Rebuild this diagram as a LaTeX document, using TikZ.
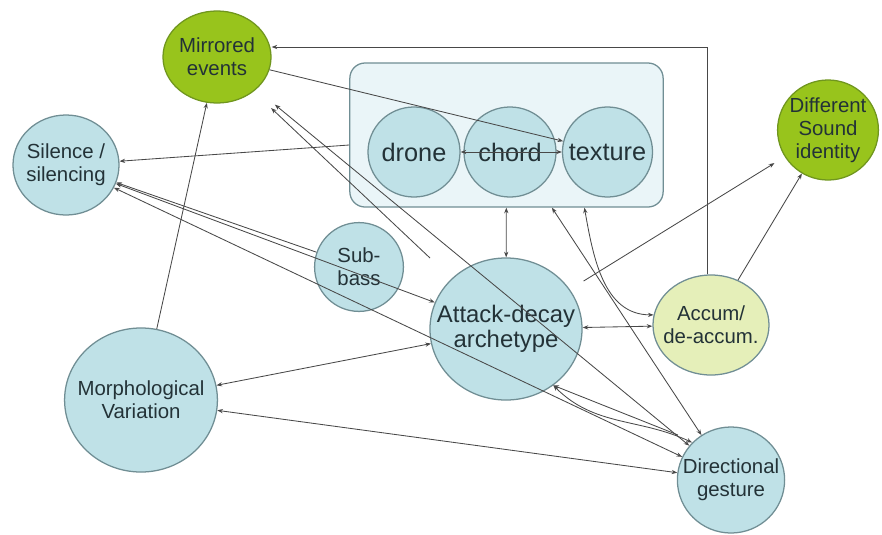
\documentclass[tikz,border=0pt]{standalone}
\usepackage{fontspec}
\setmainfont{Liberation Sans}
\usetikzlibrary{shapes.geometric,arrows.meta}
\definecolor{bubBlue}{RGB}{191,225,231}
\definecolor{bubEdge}{RGB}{112,142,148}
\definecolor{boxFill}{RGB}{234,245,248}
\definecolor{limeGreen}{RGB}{152,196,28}
\definecolor{limeEdge}{RGB}{112,150,30}
\definecolor{paleLime}{RGB}{229,239,185}
\definecolor{inkGray}{RGB}{72,72,72}
\definecolor{txtDark}{RGB}{35,50,55}

\begin{document}
\begin{tikzpicture}[x=0.025cm, y=-0.025cm,
    txt/.style={font=\fontsize{14.5}{16.5}\selectfont, text=txtDark, align=center},
    bigtxt/.style={font=\fontsize{17}{18}\selectfont, text=txtDark, align=center},
    bub/.style={ellipse, draw=bubEdge, line width=0.9pt, fill=bubBlue, inner sep=0pt},
    grn/.style={bub, fill=limeGreen, draw=limeEdge},
    lnk/.style={draw=inkGray, line width=0.6pt},
    >={Stealth[length=4pt,width=3pt]}]
    \useasboundingbox (0,0) rectangle (882,534);

    % drone / chord / texture group
    \node[draw=bubEdge, fill=boxFill, line width=0.9pt, rounded corners=0.38cm,
          minimum width=7.83cm, minimum height=3.6cm] (box) at (506.5,135) {};
    \node[bub, minimum width=2.3cm, minimum height=2.25cm,
          label={[bigtxt, font=\fontsize{18}{20}\selectfont]center:drone}] (drone) at (414,152) {};
    \node[bub, minimum width=2.3cm, minimum height=2.25cm,
          label={[bigtxt, font=\fontsize{18}{20}\selectfont]center:chord}] (chord) at (510,152) {};
    \node[bub, minimum width=2.25cm, minimum height=2.25cm,
          label={[bigtxt, font=\fontsize{18}{20}\selectfont]center:texture}] (tex) at (607.5,152) {};

    \node[grn, minimum width=2.7cm, minimum height=2.3cm,
          label={[txt]center:{Mirrored\\events}}] (mirr) at (217,57) {};
    \node[grn, minimum width=2.52cm, minimum height=2.5cm,
          label={[txt]center:{Different\\Sound\\identity}}] (diff) at (828,130) {};
    \node[bub, minimum width=2.65cm, minimum height=2.5cm,
          label={[txt]center:{Silence /\\silencing}}] (sil) at (66,165) {};
    \node[bub, minimum width=2.22cm, minimum height=2.22cm,
          label={[txt]center:{Sub-\\bass}}] (sub) at (359,267) {};
    \node[bub, minimum width=3.8cm, minimum height=3.55cm,
          label={[bigtxt]center:{Attack-decay\\archetype}}] (att) at (506,329) {};
    \node[bub, fill=paleLime, minimum width=2.9cm, minimum height=2.5cm,
          label={[txt]center:{Accum/\\de-accum.}}] (acc) at (711,325) {};
    \node[bub, minimum width=3.82cm, minimum height=3.6cm,
          label={[txt]center:{Morphological\\Variation}}] (morph) at (141,400) {};
    \node[bub, minimum width=2.68cm, minimum height=2.65cm,
          label={[txt]center:{Directional\\gesture}}] (dir) at (731,480) {};

    \coordinate (turn) at (707,47);
    \coordinate (attnw) at (430,258);
    \coordinate (dirnw) at (678,435);

    % links
    \draw[lnk,->] (acc.north -| turn) -- (turn) -- (mirr.east |- turn);
    \draw[lnk,->] (mirr) -- (tex);
    \draw[lnk,<->] (drone) -- (tex);
    \draw[lnk,->] ([yshift=-2.5mm]box.west) -- (sil);
    \draw[lnk,<->] (sil) -- (att);
    \draw[lnk,<-] (sil) -- (sub);
    \draw[lnk,<->] (sil) -- (dir);
    \draw[lnk,<->,shorten <=6mm] (mirr) -- (dir);
    \draw[lnk,<-,shorten <=6mm] (mirr) -- (attnw);
    \draw[lnk,->] (morph) -- (mirr);
    \draw[lnk,<->] (att) -- (morph);
    \draw[lnk,<->] (morph) -- (dir);
    \draw[lnk,<->] (box) -- (att);
    \draw[lnk,<->] (box.-58) -- (dir);
    \draw[lnk,<->] (box.-43) to[out=-80, in=180] (acc.170);
    \draw[lnk,<->] (att) -- (acc);
    \draw[lnk,->,shorten <=4mm,shorten >=3mm] (att) -- (diff);
    \draw[lnk,->] (acc) -- (diff);
    \draw[lnk,<->] (att.-50) to[out=-45, in=155] (dir.136);
    \draw[lnk,<-] (att.-50) -- (dirnw);
\end{tikzpicture}
\end{document}
